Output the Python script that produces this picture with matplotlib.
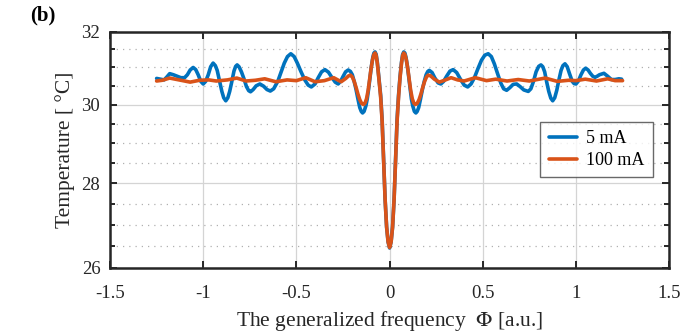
import numpy as np
import matplotlib
matplotlib.use("Agg")
import matplotlib.pyplot as plt
from matplotlib.ticker import MultipleLocator, FixedLocator, FuncFormatter

# ---------------- data ----------------
phi_5mA = [-1.25, -1.23, -1.21, -1.195, -1.18, -1.16, -1.14, -1.12, -1.10, -1.085,
           -1.07, -1.054, -1.04, -1.027, -1.013, -1.0, -0.987, -0.973, -0.96, -0.947,
           -0.935, -0.925, -0.913, -0.90, -0.89, -0.879, -0.868, -0.858, -0.848, -0.835,
           -0.826, -0.818, -0.808, -0.795, -0.782, -0.768, -0.756, -0.746, -0.732, -0.716,
           -0.696, -0.676, -0.658, -0.64, -0.622, -0.60, -0.582, -0.565, -0.548, -0.53,
           -0.512, -0.495, -0.475, -0.455, -0.437, -0.42, -0.40, -0.383, -0.365, -0.347,
           -0.328, -0.31, -0.292, -0.276, -0.262, -0.25, -0.236, -0.222, -0.21, -0.20,
           -0.19, -0.18, -0.17, -0.16, -0.152, -0.145, -0.137, -0.127, -0.12, -0.113,
           -0.105, -0.098, -0.09, -0.084, -0.078, -0.072, -0.066, -0.058, -0.048, -0.04,
           -0.032, -0.024, -0.016, -0.008, 0.0,
           0.008, 0.016, 0.024, 0.032, 0.04, 0.048, 0.056, 0.064, 0.07, 0.076,
           0.082, 0.088, 0.096, 0.103, 0.11, 0.117, 0.124, 0.133, 0.141, 0.148,
           0.156, 0.166, 0.176, 0.186, 0.196, 0.205, 0.213, 0.228, 0.242, 0.26,
           0.275, 0.29, 0.306, 0.324, 0.341, 0.36, 0.38, 0.40, 0.419, 0.437,
           0.455, 0.475, 0.493, 0.511, 0.529, 0.546, 0.562, 0.58, 0.597, 0.612,
           0.628, 0.645, 0.663, 0.682, 0.70, 0.72, 0.744, 0.758, 0.772, 0.786,
           0.80, 0.812, 0.822, 0.832, 0.843, 0.854, 0.865, 0.875, 0.886, 0.897,
           0.908, 0.92, 0.93, 0.941, 0.953, 0.966, 0.98, 0.99, 1.0, 1.013,
           1.026, 1.04, 1.052, 1.065, 1.077, 1.09, 1.102, 1.114, 1.126, 1.15,
           1.17, 1.19, 1.21, 1.23, 1.245]
temp_5mA = [30.70, 30.68, 30.66, 30.74, 30.83, 30.80, 30.76, 30.72, 30.72, 30.80,
            30.93, 31.00, 30.94, 30.80, 30.62, 30.55, 30.62, 30.80, 31.02, 31.12,
            31.05, 30.92, 30.65, 30.35, 30.18, 30.10, 30.18, 30.35, 30.58, 30.90,
            31.03, 31.07, 31.02, 30.88, 30.70, 30.48, 30.37, 30.34, 30.40, 30.50,
            30.55, 30.49, 30.40, 30.36, 30.42, 30.62, 30.88, 31.12, 31.30, 31.38,
            31.30, 31.12, 30.88, 30.66, 30.52, 30.47, 30.55, 30.72, 30.88, 30.94,
            30.87, 30.73, 30.60, 30.55, 30.63, 30.75, 30.88, 30.93, 30.89, 30.80,
            30.62, 30.40, 30.15, 29.92, 29.82, 29.78, 29.82, 29.97, 30.15, 30.40,
            30.72, 31.02, 31.28, 31.40, 31.43, 31.36, 31.15, 30.75, 30.25, 29.60,
            28.60, 27.60, 26.95, 26.60, 26.46,
            26.60, 26.95, 27.60, 28.60, 29.60, 30.25, 30.75, 31.15, 31.36, 31.43,
            31.40, 31.28, 31.02, 30.72, 30.40, 30.15, 29.97, 29.82, 29.78, 29.82,
            29.92, 30.15, 30.40, 30.62, 30.80, 30.89, 30.92, 30.86, 30.72, 30.58,
            30.55, 30.62, 30.76, 30.90, 30.94, 30.86, 30.68, 30.52, 30.47, 30.55,
            30.72, 30.98, 31.20, 31.34, 31.38, 31.30, 31.10, 30.82, 30.57, 30.42,
            30.38, 30.45, 30.54, 30.55, 30.48, 30.39, 30.35, 30.42, 30.62, 30.88,
            31.03, 31.07, 31.02, 30.88, 30.60, 30.35, 30.17, 30.10, 30.18, 30.38,
            30.65, 30.92, 31.05, 31.10, 31.02, 30.82, 30.62, 30.56, 30.55, 30.63,
            30.79, 30.93, 30.98, 30.93, 30.84, 30.76, 30.73, 30.76, 30.80, 30.84,
            30.76, 30.67, 30.67, 30.69, 30.68]

phi_100mA = [-1.25, -1.22, -1.18, -1.13, -1.07, -1.02, -0.97, -0.93, -0.87, -0.82,
             -0.77, -0.72, -0.67, -0.61, -0.55, -0.50, -0.45, -0.40, -0.35, -0.30,
             -0.26, -0.235, -0.22, -0.21, -0.20, -0.19, -0.18, -0.17, -0.16, -0.15,
             -0.14, -0.132, -0.124, -0.115, -0.107, -0.10, -0.092, -0.085, -0.078, -0.072,
             -0.066, -0.058, -0.048, -0.04, -0.032, -0.024, -0.016, -0.008, 0.0,
             0.008, 0.016, 0.024, 0.032, 0.04, 0.048, 0.056, 0.064, 0.07, 0.076,
             0.083, 0.09, 0.098, 0.105, 0.113, 0.122, 0.13, 0.138, 0.148, 0.158,
             0.168, 0.178, 0.188, 0.198, 0.207, 0.22, 0.24, 0.267, 0.30, 0.33,
             0.365, 0.40, 0.46, 0.52, 0.57, 0.63, 0.69, 0.75, 0.835, 0.90,
             0.96, 1.00, 1.05, 1.11, 1.17, 1.21, 1.25]
temp_100mA = [30.63, 30.65, 30.71, 30.66, 30.60, 30.65, 30.66, 30.63, 30.66, 30.71,
              30.63, 30.65, 30.69, 30.61, 30.66, 30.64, 30.72, 30.61, 30.64, 30.72,
              30.61, 30.70, 30.77, 30.79, 30.74, 30.62, 30.46, 30.28, 30.13, 30.03,
              30.00, 30.04, 30.15, 30.38, 30.68, 30.95, 31.20, 31.35, 31.40, 31.33,
              31.12, 30.72, 30.20, 29.55, 28.55, 27.60, 26.95, 26.60, 26.47,
              26.60, 26.95, 27.60, 28.55, 29.55, 30.20, 30.72, 31.12, 31.33, 31.40,
              31.35, 31.20, 30.95, 30.68, 30.38, 30.15, 30.04, 30.00, 30.03, 30.13,
              30.28, 30.46, 30.62, 30.74, 30.79, 30.77, 30.68, 30.60, 30.66, 30.72,
              30.66, 30.63, 30.72, 30.64, 30.68, 30.63, 30.67, 30.63, 30.71, 30.62,
              30.65, 30.64, 30.68, 30.63, 30.69, 30.64, 30.64]

labels = ["5 mA", "100 mA"]
x_ticks = [-1.5, -1, -0.5, 0, 0.5, 1, 1.5]
y_ticks = [26, 28, 30, 32]

# ---------------- style ----------------
plt.rcParams['font.family'] = ['Liberation Serif', 'DejaVu Serif']
plt.rcParams['axes.unicode_minus'] = False
plt.rcParams['mathtext.fontset'] = 'stix'

fig = plt.figure(figsize=(6.92, 3.35), dpi=100)
ax = fig.add_axes([0.159, 0.20, 0.808, 0.705])

# the reference's vertical axis is slightly stretched toward the bottom
def _fwd(y):
    d = 32.0 - np.asarray(y, dtype=float)
    return -(35.0 * d + 0.75 * d * d)

def _inv(v):
    v = np.asarray(v, dtype=float)
    disc = np.clip(1225.0 - 3.0 * v, 0, None)
    d = (-35.0 + np.sqrt(disc)) / 1.5
    return 32.0 - d

ax.set_yscale('function', functions=(_fwd, _inv))

blue = '#0072BD'
orange = '#D95319'
ax.plot(phi_5mA, temp_5mA, color=blue, lw=2.6, label=labels[0], zorder=3,
        solid_joinstyle='round', solid_capstyle='round')
ax.plot(phi_100mA, temp_100mA, color=orange, lw=2.6, label=labels[1], zorder=4,
        solid_joinstyle='round', solid_capstyle='round')

ax.set_xlim(-1.5, 1.5)
ax.set_ylim(26, 32)
ax.xaxis.set_major_locator(FixedLocator(x_ticks))
ax.yaxis.set_major_locator(FixedLocator(y_ticks))
ax.yaxis.set_minor_locator(MultipleLocator(0.5))
ax.xaxis.set_minor_locator(FixedLocator([]))
ax.xaxis.set_major_formatter(FuncFormatter(lambda v, p: ('%g' % v)))
ax.yaxis.set_major_formatter(FuncFormatter(lambda v, p: ('%g' % v)))

ax.grid(which='major', color='#d4d4d4', lw=0.9, ls='-', zorder=0)
ax.grid(which='minor', axis='y', color='#b0b0b0', lw=0.9, ls=(0, (1, 4)), zorder=0)
ax.set_axisbelow(True)

ax.tick_params(which='both', direction='in', top=True, right=True, colors='#262626',
               labelcolor='#262626', labelsize=13.5, width=1.4)
ax.tick_params(which='major', length=5)
ax.tick_params(axis='x', which='major', pad=12)
ax.tick_params(axis='y', which='major', pad=7)
ax.tick_params(which='minor', length=3.5)
for s in ax.spines.values():
    s.set_linewidth(1.8)
    s.set_color('#262626')

ax.set_xlabel('The generalized frequency  $\\Phi$ [a.u.]', fontsize=15.5, color='#262626',
              labelpad=5)
ax.set_ylabel('Temperature [ \u00b0C]', fontsize=15.5, color='#262626', labelpad=5)

leg = ax.legend(loc='upper right', bbox_to_anchor=(0.971, 0.619), borderaxespad=0,
                fontsize=13, frameon=True, fancybox=False, handlelength=1.6,
                borderpad=0.45, labelspacing=0.3, handletextpad=0.5)
leg.get_frame().set_edgecolor('#444444')
leg.get_frame().set_linewidth(1.0)

fig.text(0.043, 0.925, '(b)', fontsize=15, fontweight='bold', ha='left', va='bottom')

fig.savefig('out.png', dpi=100)
